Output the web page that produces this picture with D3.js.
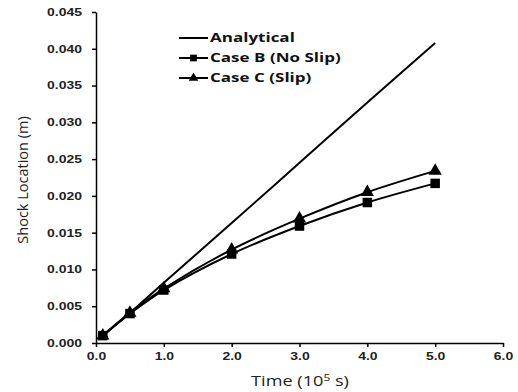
<!DOCTYPE html>
<html>
<head>
<meta charset="utf-8">
<script src="https://cdn.jsdelivr.net/npm/d3@7"></script>
<style>
  body { margin: 0; background: #fff; }
  svg { font-family: "Open Sans", "Liberation Sans", sans-serif; }
</style>
</head>
<body>
<div id="chart-area"></div>
<script>
// Data
// ****
const times = [0.1, 0.5, 1.0, 2.0, 3.0, 4.0, 5.0]
const analytical = [0.0010, 0.0041, 0.0082, 0.0163, 0.0245, 0.0327, 0.0408]
const caseB = [0.0010, 0.0040, 0.0072, 0.0121, 0.0159, 0.0191, 0.0217]
const caseC = [0.0010, 0.0041, 0.0074, 0.0127, 0.0169, 0.0205, 0.0234]
const xTicks = [0, 1, 2, 3, 4, 5, 6]
const yTicks = [0, 0.005, 0.01, 0.015, 0.02, 0.025, 0.03, 0.035, 0.04, 0.045]

// Config
// ******
const W = 518, H = 392
const margin = {top: 12, right: 15, bottom: 49, left: 96}
const width = W - margin.left - margin.right
const height = H - margin.top - margin.bottom
const stretch = 1.33   // the source text is wide, stretch it horizontally

const svg = d3.select("#chart-area").append("svg")
  .attr("width", W).attr("height", H)
const g = svg.append("g")
  .attr("transform", "translate(" + margin.left + "," + margin.top + ")")

const x = d3.scaleLinear().domain([0, 6]).range([0, width])
const y = d3.scaleLinear().domain([0, 0.045]).range([height, 0])

// Axes
// ****
const xAxis = g.append("g")
  .attr("transform", "translate(0," + height + ")")
  .call(d3.axisBottom(x).tickValues(xTicks).tickFormat(d3.format(".1f")).tickSize(4).tickSizeOuter(0))
const yAxis = g.append("g")
  .call(d3.axisLeft(y).tickValues(yTicks).tickFormat(d3.format(".3f")).tickSize(4).tickSizeOuter(0))

g.selectAll(".domain, .tick line").attr("stroke", "#000").attr("stroke-width", 1.5)
g.selectAll(".tick text")
  .attr("fill", "#222")
  .style("font-size", "10.5px")
  .style("font-weight", "bold")
  .attr("transform", "scale(" + stretch + ",1)")
xAxis.selectAll(".tick text").attr("dy", "1em")
yAxis.selectAll(".tick text").attr("x", -14 / stretch)

// Axis labels
svg.append("text")
  .attr("transform", "translate(300,386) scale(1.25,1)")
  .attr("text-anchor", "middle")
  .style("font-size", "14.5px")
  .attr("fill", "#222")
  .html('Time (10<tspan dy="-5" font-size="9.5px">5</tspan><tspan dy="5"> s)</tspan>')

svg.append("text")
  .attr("transform", "translate(28,180) rotate(-90)")
  .attr("text-anchor", "middle")
  .style("font-size", "14.5px")
  .attr("fill", "#222")
  .text("Shock Location (m)")

// Series
// ******
const series = [
  {name: "Analytical", values: analytical, marker: null},
  {name: "Case B (No Slip)", values: caseB, marker: "square"},
  {name: "Case C (Slip)", values: caseC, marker: "triangle"}
]

const line = d3.line()
  .x(d => x(d[0])).y(d => y(d[1]))
  .curve(d3.curveCatmullRom.alpha(0.5))

const symbolFor = (m, big) => m === "square"
  ? d3.symbol().type(d3.symbolSquare).size(big ? 90 : 45)
  : d3.symbol().type(d3.symbolTriangle).size(big ? 75 : 40)

series.forEach(s => {
  const pts = times.map((t, i) => [t, s.values[i]])
  g.append("path")
    .datum(pts)
    .attr("fill", "none")
    .attr("stroke", "#000")
    .attr("stroke-width", 2)
    .attr("d", line)
  if (s.marker) {
    g.selectAll(null).data(pts).enter()
      .append("path")
      .attr("transform", d => "translate(" + x(d[0]) + "," + y(d[1]) + ")")
      .attr("d", symbolFor(s.marker, true))
      .attr("fill", "#000")
  }
})

// Legend
// ******
const legend = svg.append("g").attr("transform", "translate(179,38)")
series.forEach((s, i) => {
  const row = legend.append("g").attr("transform", "translate(0," + (i * 20) + ")")
  row.append("line")
    .attr("x1", 0).attr("x2", 29)
    .attr("stroke", "#000").attr("stroke-width", 2)
  if (s.marker) {
    row.append("path")
      .attr("transform", "translate(14.5,0)")
      .attr("d", symbolFor(s.marker, false)())
      .attr("fill", "#000")
  }
  row.append("text")
    .attr("transform", "translate(31,0) scale(" + stretch + ",1)")
    .attr("dy", "0.35em")
    .style("font-size", "12.8px")
    .style("font-weight", "bold")
    .attr("fill", "#111")
    .text(s.name)
})
</script>
</body>
</html>
